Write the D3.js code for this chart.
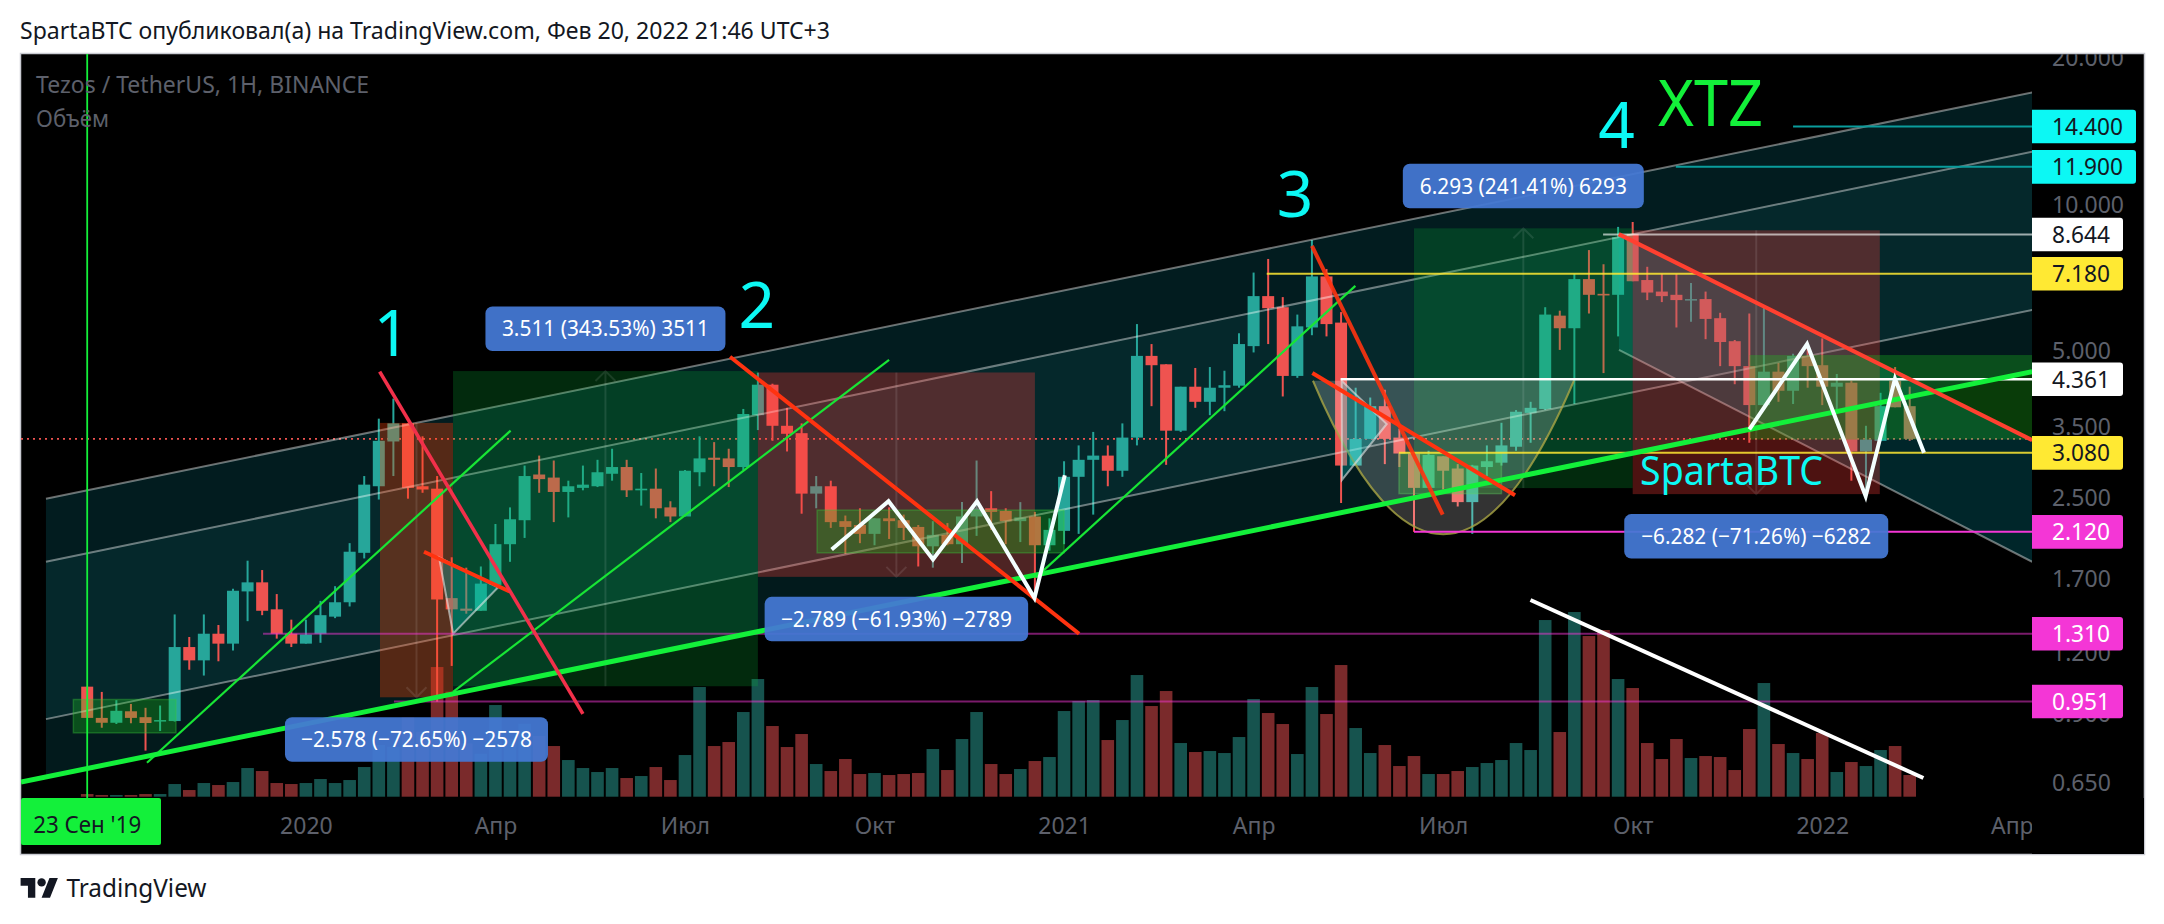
<!DOCTYPE html>
<html><head><meta charset="utf-8">
<script src="https://cdn.jsdelivr.net/npm/d3@7"></script>
<style>html,body{margin:0;padding:0;background:#fff}svg{display:block}text{font-family:"Noto Sans",sans-serif}</style>
</head><body><svg id="c" width="2164" height="924"></svg>
<script>
// Weekly candles, first week = 23 Sep 2019
const opens=[1.02,.88,.86,.908,.883,.867,.867,1.23,1.155,1.31,
1.25,1.6,1.67,1.47,1.31,1.25,1.31,1.42,1.52,1.92,
2.63,3.25,3.54,2.63,2.60,1.55,1.475,1.46,1.65,2.0,
2.24,2.78,2.74,2.56,2.61,2.63,2.79,2.88,2.58,2.60,
2.38,2.28,2.81,3.01,3.0,2.88,3.68,4.25,3.50,3.38,
2.54,2.63,2.23,2.19,2.10,2.26,2.24,2.17,1.98,2.09,
2.0,2.28,2.37,2.34,2.23,2.28,1.99,2.13,2.75,2.98,
3.04,2.83,3.31,4.87,4.68,3.42,4.21,3.92,4.19,4.23,
5.10,6.46,6.13,4.43,5.57,7.09,5.70,2.90,3.29,3.84,
3.31,3.07,2.61,3.03,2.86,2.44,2.88,2.94,3.17,3.72,
3.79,5.89,5.55,7.0,6.53,6.5,8.66,6.97,6.6,6.5,
6.33,6.37,5.82,5.22,4.64,3.86,4.52,4.13,4.87,4.66,
4.21,4.29,3.10,3.26,4.33,3.84];
const closes=[.88,.86,.91,.88,.859,.871,1.23,1.155,1.31,1.25,
1.605,1.67,1.46,1.31,1.25,1.305,1.43,1.52,1.93,2.65,
3.26,3.54,2.61,2.59,1.54,1.47,1.46,1.66,2.0,2.25,
2.76,2.72,2.56,2.63,2.65,2.81,2.88,2.58,2.60,2.37,
2.28,2.83,3.0,2.98,2.88,3.70,4.25,3.50,3.37,2.54,
2.63,2.22,2.17,2.10,2.26,2.23,2.16,1.98,2.09,2.0,
2.28,2.37,2.33,2.23,2.27,1.99,2.14,2.75,2.98,3.04,
2.83,3.31,4.87,4.66,3.42,4.21,3.92,4.19,4.24,5.15,
6.46,6.10,4.43,5.60,7.09,5.66,2.90,3.29,3.84,3.29,
3.07,2.61,3.05,2.83,2.44,2.90,2.96,3.19,3.74,3.81,
5.92,5.55,7.0,6.5,6.48,8.53,6.93,6.57,6.46,6.34,
6.37,5.80,5.20,4.64,3.86,4.52,4.13,4.87,4.64,4.21,
4.29,3.10,3.28,3.84,3.82,3.29];
const highs=[1.02,.995,.957,.94,.923,.933,1.435,1.29,1.435,1.365,
1.62,1.85,1.77,1.58,1.40,1.40,1.53,1.64,2.01,2.76,
3.62,3.98,3.54,3.33,2.76,1.88,1.79,1.80,2.20,2.38,
2.90,3.04,2.97,2.70,2.90,2.98,3.14,2.98,2.80,2.86,
2.45,2.84,3.33,3.24,3.14,3.79,4.50,4.27,3.81,3.54,
2.76,2.70,2.29,2.37,2.26,2.38,2.30,2.19,2.23,2.21,
2.44,2.97,2.57,2.37,2.44,2.33,2.26,2.96,3.19,3.40,
3.19,3.54,5.66,5.15,4.68,4.21,4.60,4.62,4.54,5.42,
7.22,7.70,6.43,5.92,8.42,7.34,5.99,4.19,4.0,4.15,
3.45,3.07,3.11,3.03,2.92,2.91,3.19,3.55,3.77,3.92,
6.13,6.03,7.17,8.03,7.51,8.96,9.17,7.42,7.17,7.17,
6.87,6.6,5.97,5.25,5.95,6.11,4.71,4.92,5.13,5.29,
4.47,4.33,3.50,4.09,4.62,4.21];
const lows=[.88,.84,.855,.858,.754,.827,.865,1.105,1.075,1.15,
1.21,1.39,1.43,1.28,1.23,1.25,1.255,1.41,1.49,1.87,
2.47,2.76,2.48,2.55,.95,1.125,1.44,1.46,1.65,1.84,
2.06,2.55,2.22,2.27,2.58,2.62,2.70,2.50,2.40,2.26,
2.22,2.28,2.63,2.63,2.62,2.84,3.43,3.26,3.10,2.31,
2.37,2.16,1.91,2.01,1.99,2.05,2.04,1.80,1.79,1.99,
1.83,2.08,2.14,2.0,2.02,1.59,1.94,2.0,2.10,2.30,
2.63,2.75,3.19,3.84,2.91,3.40,3.81,3.68,3.75,4.19,
4.95,5.15,4.02,4.39,5.37,5.34,2.43,2.90,3.29,2.92,
2.88,2.12,2.61,2.59,2.39,2.10,2.76,2.90,3.11,3.23,
3.77,5.01,3.88,5.95,4.49,5.34,6.93,6.34,6.28,5.57,
5.72,5.27,4.64,4.26,3.23,3.86,3.92,3.88,4.19,3.86,
3.79,2.70,2.53,3.26,3.82,3.26];
const volumes=[8,5,5,5,8,8,38,20,41,35,
44,86,77,41,38,41,53,41,50,89,
155,150,237,195,389,315,160,129,275,174,
219,182,152,110,86,74,86,56,62,89,
50,125,329,152,164,254,353,212,149,188,
98,77,113,68,71,65,68,71,143,80,
173,254,98,68,83,107,119,257,287,290,
170,230,365,272,317,161,134,137,131,179,
293,251,218,128,329,248,395,206,131,155,
92,122,68,68,77,89,101,110,161,140,
530,194,554,482,500,353,326,161,113,173,
116,122,119,80,203,341,158,131,113,191,
74,104,92,140,152,65];

const priceTicks=[20,10,5,3.5,2.5,1.7,1.2,.9,.65];
const timeTickWeeks=[15,28,41,54,67,80,93,106,119,132];
const timeTickLabels=["2020","Апр","Июл","Окт","2021","Апр","Июл","Окт","2022","Апр"];
const lastPrice=3.29;

// Horizontal levels: price, starting week
const levelPrices=[14.4,11.9,8.644,7.18,4.361,3.08,2.12,1.31,.951];
const levelStarts=[117,108.96,103.97,80.9,85.97,89.97,91,12.06,21.04];
const levelKinds=["cyan","cyan","white","yellow","white2","yellow","magenta","magenta2","magenta2"];

// Main rising channel [week, price] pairs
const chanTop=[[-2.83,2.48],[133.4,16.92]];
const chanSecond=[[-2.83,1.84],[133.4,12.78]];
const chanThird=[[-2.83,.875],[133.4,6.05]];
const chanBottom=[[-2.83,.667],[133.4,4.52]];
const supportLine=[[-4.54,.65],[133.4,4.52]];

// Falling channel
const fallTop=[[105.04,8.66],[133.4,3.27]];
const fallBottom=[[105.06,5.01],[133.4,1.84]];

// Measure tools
const measureTexts=["−2.578 (−72.65%) −2578","3.511 (343.53%) 3511","−2.789 (−61.93%) −2789","6.293 (241.41%) 6293","−6.282 (−71.26%) −6282"];
const measureWeeks=[[20.08,25.09],[25.09,46],[46,65],[91,106],[106,122.95]];
const measurePrices=[[3.548,.97],[1.022,4.533],[4.503,1.714],[2.607,8.9],[8.816,2.534]];

// Green boxes: weeks, prices
const boxWeeks=[[-.95,6.09],[50.06,67],[89.97,97],[114,133.4]];
const boxPrices=[[.96,.82],[2.35,1.92],[3.07,2.54],[4.89,3.28]];

// Trend lines
const redLines=[
 [[23.1,1.93],[28.97,1.60]],
 [[44.09,4.85],[68.03,1.31]],
 [[84,8.19],[92.97,2.30]],
 [[84.03,4.49],[97.93,2.52]],
 [[105.04,8.66],[133.4,3.27]]];
const pinkLine=[[20.06,4.52],[34,.897]];
const greenLines=[
 [[4.1,.712],[29.04,3.42]],
 [[25.09,.995],[55,4.78]],
 [[65.07,1.71],[86.98,6.78]]];
const triangles=[
 [[24.13,1.88],[25.1,1.31],[28.17,1.63]],
 [[86.04,4.33],[86.06,2.71],[89.13,3.53]]];
const zigzags=[
 [[51.06,1.95],[54.96,2.45],[58.01,1.86],[61.03,2.45],[64.97,1.55],[67.05,2.77]],
 [[114,3.44],[117.96,5.15],[121.98,2.51],[123.99,4.37],[125.98,3.08]]];
const cupArc=[[84.07,4.33],[93,1.015],[101.97,4.33]];
const volumeTrend=[[98.99,590],[125.94,56]];

// Big captions
const captionTexts=["1","2","3","4"];
const captionAt=[[20.9,4.87],[45.92,5.55],[82.84,9.41],[104.9,13.03]];

const W={l:21,t:54,r:2032,b:798,R:2144,B:854};
const x=d3.scaleLinear().domain([0,125]).range([87.2,1909.7]);
const y=d3.scaleLog().domain([20,.65]).range([57,782]);
const v=d3.scaleLinear().domain([0,600]).range([796.7,596.7]);
const pt=d=>[x(d[0]),y(d[1])];
const lineGen=d3.line().x(d=>x(d[0])).y(d=>y(d[1]));
const svg=d3.select("#c");
const GREEN="#13f03a",CYAN="#0cf8f4",GREY="#5d606b";

svg.append("rect").attr("width",2164).attr("height",924).attr("fill","#fff");
svg.append("rect").attr("x",W.l-.5).attr("y",W.t-.5).attr("width",W.R-W.l+1).attr("height",W.B-W.t+1).attr("fill","#000").attr("stroke","#c9cbd2").attr("stroke-width",1.5);
const defs=svg.append("defs");
defs.append("clipPath").attr("id","pane").append("rect").attr("x",W.l).attr("y",W.t).attr("width",W.r-W.l).attr("height",W.b-W.t);
defs.append("clipPath").attr("id","frame").append("rect").attr("x",W.l).attr("y",W.t).attr("width",W.R-W.l).attr("height",W.B-W.t);

function txt(g,s,px,py,size,fill,opt={}){
  const t=g.append("text").attr("x",px).attr("y",py).attr("font-size",size).attr("fill",fill).text(s);
  if(opt.anchor)t.attr("text-anchor",opt.anchor);
  if(opt.len)t.attr("textLength",opt.len).attr("lengthAdjust","spacingAndGlyphs");
  return t;
}
txt(svg,"SpartaBTC опубликовал(а) на TradingView.com, Фев 20, 2022 21:46 UTC+3",20,39,23,"#131722",{len:810});
svg.append("path").attr("transform","translate(20.6,873.6) scale(1.05,1.1)").attr("fill","#131722")
 .attr("d","M14 22H7V11H0V4h14v18zM28 22h-8l7.5-18h8L28 22z");
svg.append("circle").attr("cx",20.6+20*1.05).attr("cy",873.6+8*1.1).attr("r",4.2).attr("fill","#131722");
txt(svg,"TradingView",66.5,897,25,"#131722",{len:140});

const pane=svg.append("g").attr("clip-path","url(#pane)");

// channel bands
const band=(a,b,f)=>pane.append("path").attr("d",lineGen([a[0],a[1],b[1],b[0]])+"Z").attr("fill",f);
band(chanTop,chanSecond,"rgba(15,175,195,.16)");
band(chanSecond,chanThird,"rgba(20,175,185,.23)");
band(chanThird,chanBottom,"rgba(15,175,185,.15)");

// volume
const idx=d3.range(opens.length);
pane.append("g").selectAll("rect").data(idx).join("rect")
 .attr("x",i=>x(i)-6.3).attr("width",12.6).attr("y",i=>v(volumes[i])).attr("height",i=>v(0)-v(volumes[i]))
 .attr("fill",i=>closes[i]>=opens[i]?"#16534e":"#7a2a2b");
// dotted last price
pane.append("line").attr("x1",W.l).attr("x2",W.r).attr("y1",y(lastPrice)).attr("y2",y(lastPrice))
 .attr("stroke","#ef5350").attr("stroke-width",1.6).attr("stroke-dasharray","2 4");
// candles
const col=i=>closes[i]>=opens[i]?"#26a69a":"#ef5350";
pane.append("g").selectAll("line").data(idx).join("line")
 .attr("x1",i=>x(i)).attr("x2",i=>x(i)).attr("y1",i=>y(highs[i])).attr("y2",i=>y(lows[i]))
 .attr("stroke",col).attr("stroke-width",2);
pane.append("g").selectAll("rect").data(idx).join("rect")
 .attr("x",i=>x(i)-6).attr("width",12).attr("y",i=>y(Math.max(opens[i],closes[i])))
 .attr("height",i=>Math.max(1.5,y(Math.min(opens[i],closes[i]))-y(Math.max(opens[i],closes[i]))))
 .attr("fill",col);

// channel lines
[chanTop,chanSecond,chanThird].forEach(l=>pane.append("path").attr("d",lineGen(l)).attr("stroke","rgba(255,255,255,.42)").attr("stroke-width",2).attr("fill","none"));

// falling channel
pane.append("path").attr("d",lineGen([fallTop[0],fallTop[1],fallBottom[1],fallBottom[0]])+"Z").attr("fill","rgba(0,188,212,.2)");
pane.append("path").attr("d",lineGen(fallBottom)).attr("stroke","rgba(255,255,255,.42)").attr("stroke-width",2).attr("fill","none");

// measure rects
const mFills=["rgba(255,70,10,.33)","rgba(10,190,60,.22)","rgba(255,60,55,.3)","rgba(10,190,60,.22)","rgba(255,60,55,.3)"];
measureTexts.forEach((s,k)=>{
  const [a,b]=measureWeeks[k],[p0,p1]=measurePrices[k];
  const top=y(Math.max(p0,p1)),bot=y(Math.min(p0,p1));
  const g=pane.append("g");
  g.append("rect").attr("x",x(a)).attr("width",x(b)-x(a)).attr("y",top).attr("height",bot-top).attr("fill",mFills[k]);
  const cx=(x(a)+x(b))/2,up=p1>p0,tipY=up?top:bot,s2=up?1:-1;
  g.append("path").attr("d",`M${cx},${top}V${bot}M${cx-10},${tipY+10*s2}L${cx},${tipY}L${cx+10},${tipY+10*s2}`)
   .attr("stroke","rgba(255,255,255,.1)").attr("stroke-width",2).attr("fill","none");
});
// green boxes
boxWeeks.forEach((w,k)=>{
  const r=pane.append("rect").attr("x",x(w[0])).attr("width",x(w[1])-x(w[0])).attr("y",y(boxPrices[k][0])).attr("height",y(boxPrices[k][1])-y(boxPrices[k][0]))
   .attr("fill","rgba(30,200,30,.3)");
  if(k<3)r.attr("stroke","rgba(60,200,60,.35)").attr("stroke-width",1.5);
});
// cup
{const p=d3.path(),[s,c,e]=cupArc.map(pt);p.moveTo(s[0],s[1]);p.quadraticCurveTo(c[0],c[1],e[0],e[1]);
 pane.append("path").attr("d",p.toString()+"Z").attr("fill","rgba(255,255,255,.2)");
 const q=d3.path();q.moveTo(s[0],s[1]);q.quadraticCurveTo(c[0],c[1],e[0],e[1]);
 pane.append("path").attr("d",q.toString()).attr("fill","none").attr("stroke","#a9a545").attr("stroke-opacity",.8).attr("stroke-width",2);}
// triangles
triangles.forEach(t=>pane.append("path").attr("d",lineGen(t)+"Z").attr("fill","rgba(0,188,190,.3)").attr("stroke","rgba(230,230,230,.6)").attr("stroke-width",2));

// levels
const levelStroke={cyan:"#0a9c9c",white:"rgba(255,255,255,.62)",white2:"#fff",yellow:"rgba(255,233,51,.85)",magenta:"#f436d6",magenta2:"rgba(244,54,214,.5)"};
const levelBox={cyan:CYAN,white:"#fff",white2:"#fff",yellow:"#ffe933",magenta:"#f436d6",magenta2:"#f436d6"};
const levelText={cyan:"#131722",white:"#131722",white2:"#131722",yellow:"#131722",magenta:"#fff",magenta2:"#fff"};
levelPrices.forEach((p,k)=>pane.append("line").attr("x1",x(levelStarts[k])).attr("x2",W.r).attr("y1",y(p)).attr("y2",y(p))
 .attr("stroke",levelStroke[levelKinds[k]]).attr("stroke-width",levelKinds[k]==="white2"?2.4:2));

// lines
greenLines.forEach(l=>pane.append("path").attr("d",lineGen(l)).attr("stroke","#18e535").attr("stroke-width",2.2).attr("fill","none"));
pane.append("path").attr("d",lineGen(supportLine)).attr("stroke",GREEN).attr("stroke-width",5).attr("fill","none");
redLines.forEach((l,k)=>pane.append("path").attr("d",lineGen(l)).attr("stroke",k===4?"#ff4030":"#ff3310").attr("stroke-opacity",k===2?.9:1).attr("stroke-width",k===4?4.2:4).attr("fill","none"));
pane.append("path").attr("d",lineGen(pinkLine)).attr("stroke","#f2304a").attr("stroke-width",3.6).attr("fill","none");
zigzags.forEach(l=>pane.append("path").attr("d",lineGen(l)).attr("stroke","#f4ffff").attr("stroke-width",4).attr("fill","none").attr("stroke-linejoin","miter"));
pane.append("path").attr("d",`M${x(volumeTrend[0][0])},${v(volumeTrend[0][1])}L${x(volumeTrend[1][0])},${v(volumeTrend[1][1])}`).attr("stroke","#fff").attr("stroke-width",4);
// start-of-range vertical
pane.append("line").attr("x1",x(0)).attr("x2",x(0)).attr("y1",W.t).attr("y2",W.b).attr("stroke",GREEN).attr("stroke-width",1.8);

// captions
captionTexts.forEach((s,k)=>txt(pane,s,x(captionAt[k][0]),y(captionAt[k][1]),64,CYAN,{anchor:"middle"}));
txt(pane,"XTZ",x(111.34),y(14.43),64,GREEN,{anchor:"middle",len:105});
txt(pane,"SpartaBTC",x(112.78),y(2.64),40,CYAN,{anchor:"middle",len:183});
txt(pane,"Tezos / TetherUS, 1H, BINANCE",36,92.7,23,GREY,{len:333});
txt(pane,"Объём",36,126.7,23,GREY,{len:73});

// measure labels
const labelH=44.5,labelGap=20,labelW=[263,240,263.5,241,264],textW=[231,207,231,207,230];
measureTexts.forEach((s,k)=>{
  const [a,b]=measureWeeks[k],[p0,p1]=measurePrices[k];
  const cx=(x(a)+x(b))/2,up=p1>p0;
  const ly=up?y(p1)-labelGap-labelH:y(p1)+labelGap;
  pane.append("rect").attr("x",cx-labelW[k]/2).attr("y",ly).attr("width",labelW[k]).attr("height",labelH).attr("rx",7).attr("fill","#4478d3").attr("fill-opacity",.94);
  txt(pane,s,cx,ly+labelH/2+7.5,22,"#fff",{anchor:"middle",len:textW[k]});
});

// axes
const yAxis=d3.axisRight(y).tickValues(priceTicks).tickFormat(d=>d.toFixed(3)).tickSize(0).tickPadding(20);
const gy=svg.append("g").attr("clip-path","url(#frame)").append("g").attr("transform",`translate(${W.r},1)`).call(yAxis);
gy.select(".domain").remove();
gy.selectAll("text").attr("font-size",23).attr("fill",GREY).style("font-family",'"Noto Sans"');
const xAxis=d3.axisBottom(x).tickValues(timeTickWeeks).tickFormat((d,i)=>timeTickLabels[i]).tickSize(0).tickPadding(0);
const gx=svg.append("g").attr("transform",`translate(0,${W.b+20})`).call(xAxis);
gx.select(".domain").remove();
gx.selectAll("text").attr("font-size",23).attr("fill",GREY).style("font-family",'"Noto Sans"');
svg.append("rect").attr("x",W.r).attr("y",W.b).attr("width",112).attr("height",W.B-W.b).attr("fill","#000");

// level labels
levelPrices.forEach((p,k)=>{
  const kind=levelKinds[k],w=p>=10?104:91,h=33.6,g=svg.append("g");
  g.append("path").attr("d",`M${W.r},${y(p)-h/2}H${W.r+w-3}q3,0 3,3V${y(p)+h/2-3}q0,3 -3,3H${W.r}Z`).attr("fill",levelBox[kind]);
  txt(g,p.toFixed(3),W.r+20,y(p)+8.6,23,levelText[kind],{len:p>=10?71:58});
});
// date tag
svg.append("rect").attr("x",W.l).attr("y",W.b).attr("width",140).attr("height",47).attr("rx",2).attr("fill",GREEN);
txt(svg,"23 Сен '19",x(0),833,23,"#131722",{anchor:"middle",len:108});
</script></body></html>
